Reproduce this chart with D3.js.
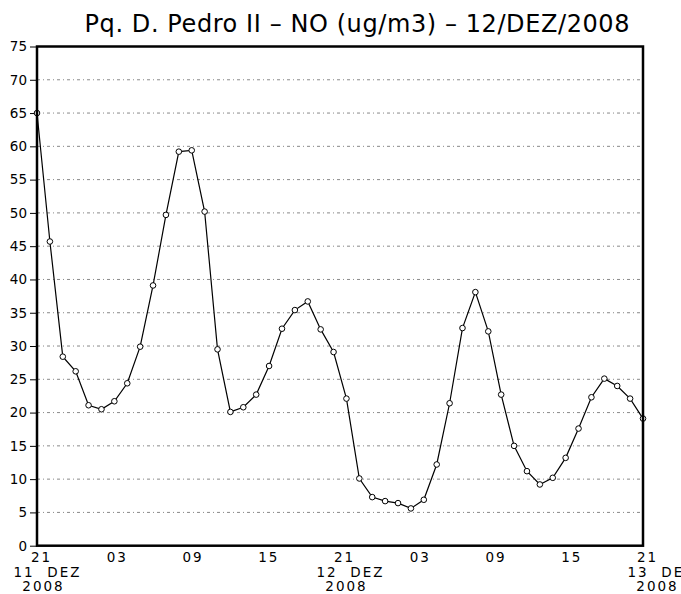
<!DOCTYPE html>
<html>
<head>
<meta charset="utf-8">
<script src="https://cdn.jsdelivr.net/npm/d3@7"></script>
<style>
  body { margin: 0; background: #fff; }
  text { font-family: "DejaVu Sans", sans-serif; fill: #000; }
</style>
</head>
<body>
<div id="chart"></div>
<script>
// hourly NO readings, 21h 11/DEZ to 21h 13/DEZ
const noValues = [65.0, 45.7, 28.4, 26.2, 21.1, 20.5, 21.7, 24.4, 29.9, 39.1,
                  49.7, 59.2, 59.4, 50.2, 29.5, 20.1, 20.8, 22.7, 27.0, 32.6,
                  35.4, 36.7, 32.5, 29.1, 22.1, 10.1, 7.3, 6.7, 6.4, 5.6,
                  6.9, 12.2, 21.4, 32.7, 38.1, 32.2, 22.7, 15.0, 11.2, 9.2,
                  10.2, 13.2, 17.6, 22.3, 25.1, 24.0, 22.1, 19.1];
const hourTicks = [0, 6, 12, 18, 24, 30, 36, 42, 48];
const hourLabels = ["21", "03", "09", "15", "21", "03", "09", "15", "21"];
const dayTicks = [0, 24, 48];
const dayLabels = ["11 DEZ", "12 DEZ", "13 DEZ"];
const yearLabel = "2008";
const yTicks = [0, 5, 10, 15, 20, 25, 30, 35, 40, 45, 50, 55, 60, 65, 70, 75];
const title = "Pq. D. Pedro II – NO (ug/m3) – 12/DEZ/2008";

let W = 681, H = 594;
let margin = { top: 46.5, right: 38, bottom: 48.3, left: 37 };
let width = W - margin.left - margin.right;
let height = H - margin.top - margin.bottom;

let svg = d3.select("#chart").append("svg")
    .attr("width", W)
    .attr("height", H);

svg.append("text")
    .attr("x", 357)
    .attr("y", 32)
    .attr("text-anchor", "middle")
    .attr("textLength", 545)
    .attr("lengthAdjust", "spacing")
    .style("font-size", "24px")
    .text(title);

let g = svg.append("g")
    .attr("transform", "translate(" + margin.left + "," + margin.top + ")");

let x = d3.scaleLinear().domain([0, 48]).range([0, width]);
// points are spread evenly over the whole axis
let xp = d3.scalePoint().domain(d3.range(noValues.length)).range([0, width]);
let y = d3.scaleLinear().domain([0, 75]).range([height, 0]);

// grid
g.append("g")
    .selectAll("line")
    .data(yTicks.filter(function(d) { return d > 0 && d < 75; }))
    .enter().append("line")
    .attr("x1", 0).attr("x2", width)
    .attr("y1", function(d) { return y(d); })
    .attr("y2", function(d) { return y(d); })
    .attr("stroke", "#8a8a8a")
    .attr("stroke-width", 1)
    .attr("stroke-dasharray", "3,3,1,3");

// y axis
let yAxis = g.append("g")
    .call(d3.axisLeft(y).tickValues(yTicks).tickSize(7).tickPadding(3).tickFormat(d3.format("d")));
yAxis.select(".domain").remove();
yAxis.selectAll("line").attr("stroke", "#000");
yAxis.selectAll("text")
    .style("font-size", "13.5px")
    .style("font-family", "DejaVu Sans, sans-serif");

// x axis: hours, then day and year lines
let xAxis = g.append("g")
    .attr("transform", "translate(0," + height + ")")
    .call(d3.axisBottom(x).tickValues(hourTicks).tickSize(0).tickPadding(0)
        .tickFormat(function(d, i) { return hourLabels[i]; }));
xAxis.select(".domain").remove();
xAxis.selectAll("text")
    .attr("y", 16.5)
    .attr("dy", null)
    .attr("dx", 4)
    .style("font-size", "13.5px")
    .style("letter-spacing", "2px")
    .style("font-family", "DejaVu Sans, sans-serif");

let days = g.append("g")
    .attr("transform", "translate(0," + height + ")")
    .selectAll("g")
    .data(dayTicks)
    .enter().append("g")
    .attr("transform", function(d, i) {
        let shift = i === dayTicks.length - 1 ? 8 : 0;
        return "translate(" + (x(d) + shift) + ",0)";
    });
days.append("text")
    .attr("x", 10.5)
    .attr("y", 31)
    .attr("text-anchor", "middle")
    .style("font-size", "13.5px")
    .style("letter-spacing", "2px")
    .style("white-space", "pre")
    .text(function(d, i) { return dayLabels[i].replace(" ", "  "); });
days.append("text")
    .attr("x", 6.5)
    .attr("y", 45.5)
    .attr("text-anchor", "middle")
    .style("font-size", "13.5px")
    .style("letter-spacing", "2px")
    .text(yearLabel);

// series
let line = d3.line()
    .x(function(d, i) { return xp(i); })
    .y(function(d) { return y(d); });

g.append("path")
    .datum(noValues)
    .attr("fill", "none")
    .attr("stroke", "#000")
    .attr("stroke-width", 1.2)
    .attr("d", line);

g.append("g")
    .selectAll("circle")
    .data(noValues)
    .enter().append("circle")
    .attr("cx", function(d, i) { return xp(i); })
    .attr("cy", function(d) { return y(d); })
    .attr("r", 2.8)
    .attr("fill", "#fff")
    .attr("stroke", "#000")
    .attr("stroke-width", 1);

// frame
g.append("rect")
    .attr("x", 0).attr("y", 0)
    .attr("width", width).attr("height", height)
    .attr("fill", "none")
    .attr("stroke", "#000")
    .attr("stroke-width", 2.5);
</script>
</body>
</html>
